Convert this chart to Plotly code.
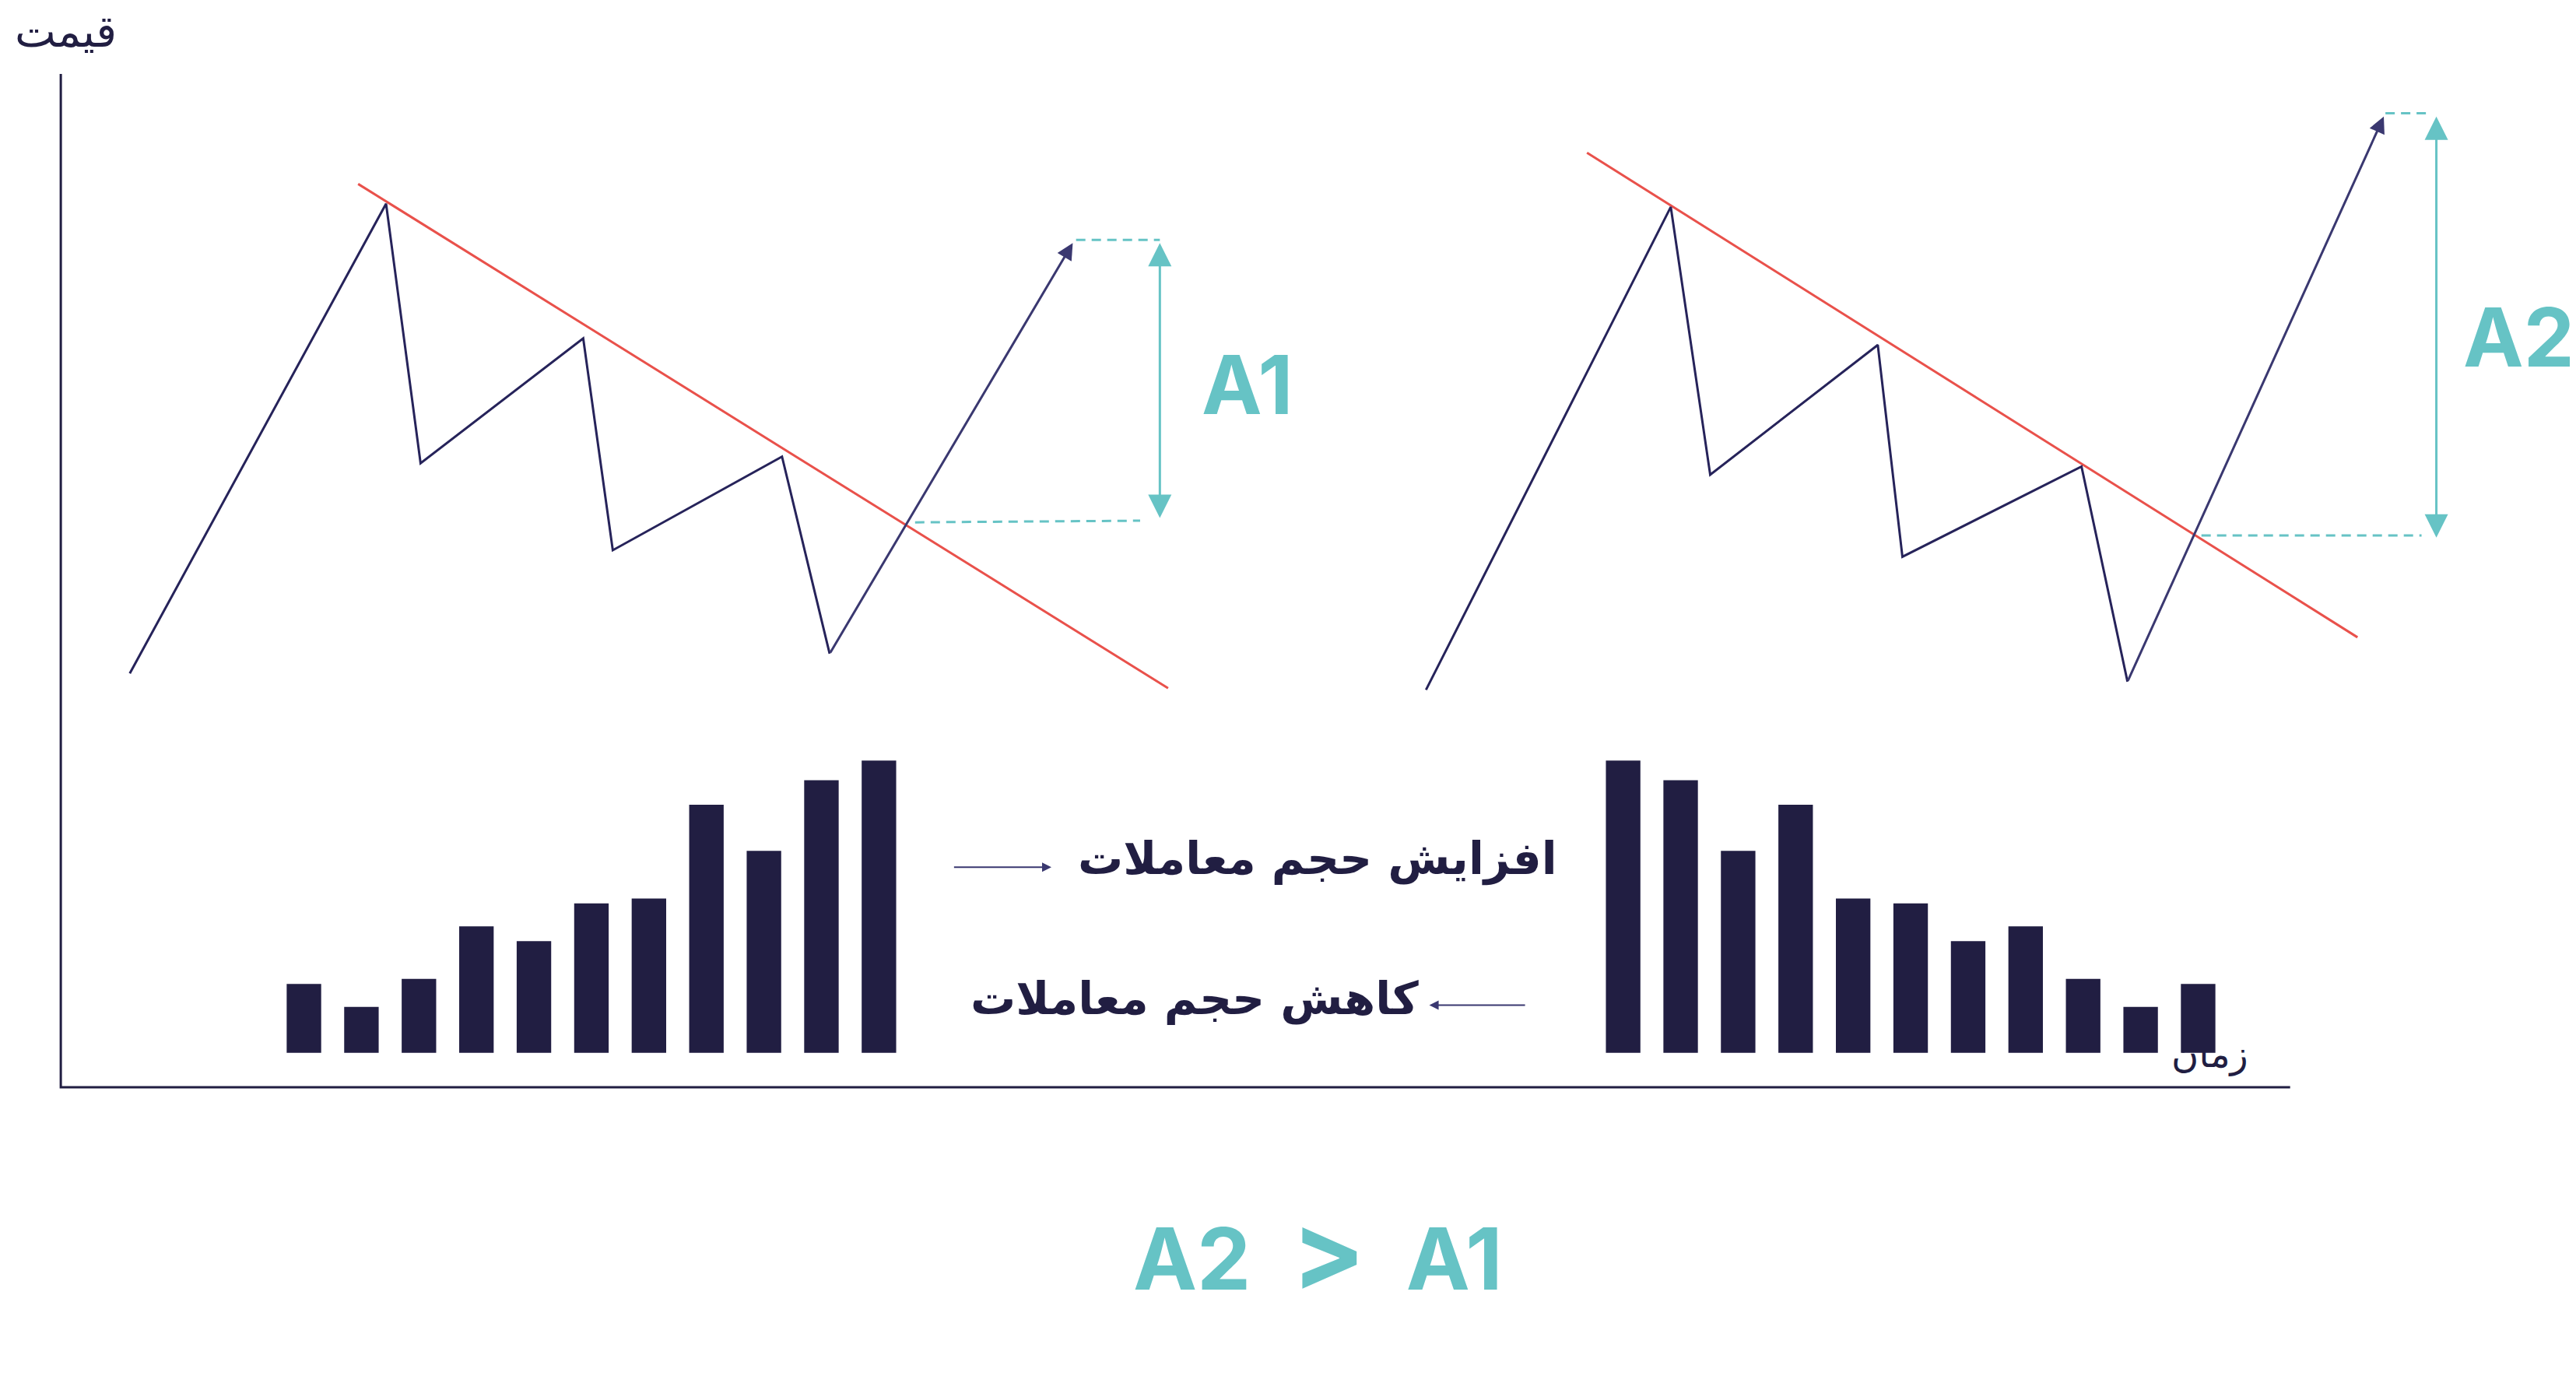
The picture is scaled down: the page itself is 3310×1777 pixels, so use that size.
import plotly.graph_objects as go

# price paths (x = time, y = price)
left_x = [79, 235, 256, 355, 373, 476, 505, 653]
left_y = [432, 718, 560, 636, 507, 564, 444, 694]
right_x = [868, 1017, 1041, 1143, 1158, 1267, 1295, 1451]
right_y = [422, 716, 553, 632, 503, 558, 427, 771]

# resistance (trend) lines
left_trend_x = [218, 711]
left_trend_y = [730, 423]
right_trend_x = [966, 1435]
right_trend_y = [749, 454]

# target measurement (breakout level -> target)
left_break_x = [557, 694]
left_break_y = [524, 525]
left_top_x = [655, 706]
left_top_y = [696, 696]
left_span = [706, 694, 526]      # x, top, bottom
right_break_x = [1340, 1474]
right_break_y = [516, 516]
right_top_x = [1452, 1478]
right_top_y = [773, 773]
right_span = [1483, 771, 514]

# volume bars
vol_base = 201
left_bar_x = [185, 220, 255, 290, 325, 360, 395, 430, 465, 500, 535]
left_bar_h = [42, 28, 45, 77, 68, 91, 94, 151, 123, 166, 178]
right_bar_x = [988, 1023, 1058, 1093, 1128, 1163, 1198, 1233, 1268, 1303, 1338]
right_bar_h = [178, 166, 123, 151, 94, 91, 68, 77, 45, 28, 42]

NAVY = "#211E42"
LINE = "#26235A"
RED = "#E9514B"
CYAN = "#66C3C5"
AR_FONT = "DejaVu Sans"
LAT_FONT = "Inter"

# the page body has an 8px margin, so pull the ranges back by that much
off = 8 / 2.111

fig = go.Figure()

# axes drawn by hand
fig.add_trace(go.Scatter(x=[37, 37, 1394], y=[797, 180, 180], mode="lines",
                         line=dict(color=NAVY, width=3)))

for bx, bh in [(left_bar_x, left_bar_h), (right_bar_x, right_bar_h)]:
    fig.add_trace(go.Bar(x=bx, y=bh, base=vol_base, width=21,
                         marker=dict(color=NAVY, line=dict(width=0))))

for tx, ty in [(left_trend_x, left_trend_y), (right_trend_x, right_trend_y)]:
    fig.add_trace(go.Scatter(x=tx, y=ty, mode="lines", line=dict(color=RED, width=3)))

for px_, py_ in [(left_x, left_y), (right_x, right_y)]:
    fig.add_trace(go.Scatter(x=px_[:-1], y=py_[:-1], mode="lines",
                             line=dict(color=LINE, width=3)))

for dx, dy in [(left_break_x, left_break_y), (left_top_x, left_top_y),
               (right_break_x, right_break_y), (right_top_x, right_top_y)]:
    fig.add_trace(go.Scatter(x=dx, y=dy, mode="lines",
                             line=dict(color=CYAN, width=3, dash="12px,8px")))

ann = []
# last leg of each price path with its arrow head
for px_, py_ in [(left_x, left_y), (right_x, right_y)]:
    ann.append(dict(x=px_[-1], y=py_[-1], ax=px_[-2], ay=py_[-2], xref="x", yref="y",
                    axref="x", ayref="y", text="", showarrow=True, arrowhead=2,
                    arrowsize=1.4, arrowwidth=3, arrowcolor="#3A3870"))
# double arrows for the targets
for sx, top, bot in [left_span, right_span]:
    ann.append(dict(x=sx, y=top, ax=sx, ay=bot, xref="x", yref="y", axref="x", ayref="y",
                    text="", showarrow=True, arrowhead=2, startarrowhead=2,
                    arrowside="end+start", arrowsize=2, startarrowsize=2,
                    arrowwidth=3, arrowcolor=CYAN))
# small arrows beside the volume labels
ann.append(dict(x=640, y=314, ax=580, ay=314, xref="x", yref="y", axref="x", ayref="y",
                text="", showarrow=True, arrowhead=2, arrowsize=1.2, arrowwidth=2,
                arrowcolor="#3A3870"))
ann.append(dict(x=870, y=230, ax=929, ay=230, xref="x", yref="y", axref="x", ayref="y",
                text="", showarrow=True, arrowhead=2, arrowsize=1.2, arrowwidth=2,
                arrowcolor="#3A3870"))

texts = [
    ("قیمت", 40, 823, AR_FONT, 56, NAVY, False),
    ("زمان", 1345, 200, AR_FONT, 48, NAVY, False),
    ("افزایش حجم معاملات", 802, 319, AR_FONT, 58, NAVY, True),
    ("کاهش حجم معاملات", 727, 234, AR_FONT, 58, NAVY, True),
    ("A1", 759, 608, LAT_FONT, 104, CYAN, True),
    ("A2", 1533, 637, LAT_FONT, 104, CYAN, True),
    ("A2  <span style='font-size:140px'>&gt;</span>  A1", 802, 81, LAT_FONT, 110, CYAN, True),
]
for t, x, y, fam, size, col, bold in texts:
    ann.append(dict(x=x, y=y, xref="x", yref="y", text=t, showarrow=False,
                    font=dict(family=fam, size=size, color=col,
                              weight="bold" if bold else "normal")))

fig.update_layout(
    width=3310, height=1777,
    margin=dict(l=0, r=0, t=0, b=0),
    paper_bgcolor="white", plot_bgcolor="white",
    showlegend=False,
    xaxis=dict(range=[off, 1568 + off], visible=False, fixedrange=True),
    yaxis=dict(range=[-off, 842 - off], visible=False, fixedrange=True),
    annotations=ann,
)

fig.write_html("out.html")
